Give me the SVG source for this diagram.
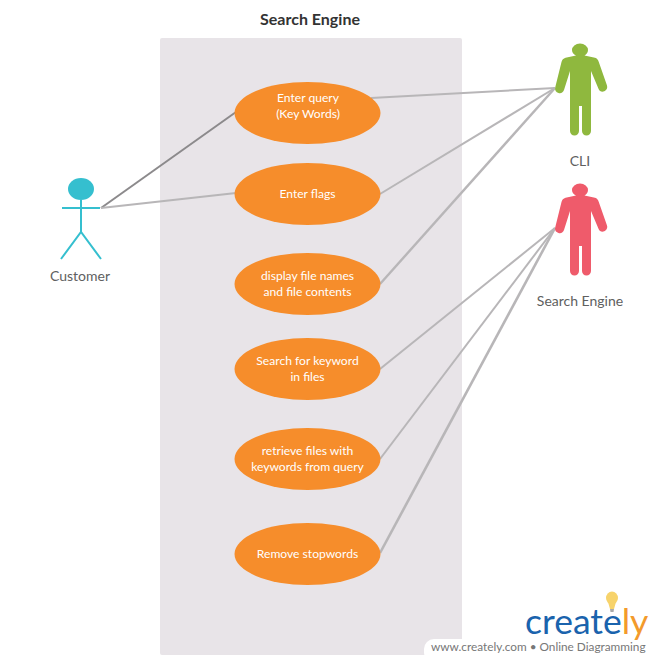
<svg xmlns="http://www.w3.org/2000/svg" width="660" height="663" viewBox="0 0 660 663">
<style>
text{font-family:Lato,"Open Sans",sans-serif}
.u ellipse{fill:#f68d2b}
.u text{fill:#fff;font-size:12.1px;text-anchor:middle}
.lab{fill:#606060;font-size:14px;text-anchor:middle}
.c line{stroke:#b8b6b8;stroke-width:2;fill:none}
.stick *{stroke:#35bfcf;stroke-width:2;fill:none}
</style>
<defs>
<path id="person" d="M572 50a8 6.500 0 0 1 16 0c0 2.500-1.500 4.500-3.500 5.500l10.500 2.300c2 .6 3 2 3.700 4l8.300 23.700c.8 2.500-.5 4.800-2.700 5.800-2.500 1.100-4.700 0-5.700-2.300L591 71v60c0 2.500-2 4.500-4.500 4.500S582 133.500 582 131V106h-3v25c0 2.500-2 4.500-4.500 4.500S570 133.500 570 131V71l-6 19c-.8 2.500-3 3.800-5.500 3-2.500-.8-4-3-3.300-5.500L561.500 62c.6-2 1.800-3.600 4-4.200l10.500-2.300c-2.500-1-4-3-4-5.500z"/>
</defs>
<rect width="660" height="663" fill="#fff"/>
<rect id="boundary" x="160" y="38" width="302" height="617" rx="2" fill="#e8e4e8"/>
<text id="title" x="310" y="25" font-size="16" font-weight="700" fill="#333" text-anchor="middle">Search Engine</text>
<g id="connectors" class="c">
<line x1="101" y1="208" x2="236" y2="112" style="stroke:#8c8a8c"/>
<line x1="101" y1="208" x2="236" y2="193"/>
<line x1="371" y1="98" x2="555" y2="88"/>
<line x1="380" y1="194" x2="555" y2="88"/>
<line x1="380" y1="284" x2="555" y2="88" style="stroke-width:2.400"/>
<line x1="380" y1="369" x2="555" y2="228"/>
<line x1="380" y1="459" x2="555" y2="228"/>
<line x1="380" y1="553" x2="555" y2="228" style="stroke-width:2.600"/>
</g>
<g id="customer">
<ellipse cx="81" cy="189" rx="13" ry="11" fill="#35bfcf"/>
<g class="stick"><path d="M81 200V232M62 208H100M61 259L81 232L101 259"/></g>
<text class="lab" x="80" y="281">Customer</text>
</g>
<g id="cli">
<use href="#person" fill="#8fb83e"/>
<text class="lab" x="580" y="166">CLI</text>
</g>
<g id="search-engine-actor">
<use href="#person" y="140" fill="#ef5b6b"/>
<text class="lab" x="580" y="306">Search Engine</text>
</g>
<g id="uc1" class="u"><ellipse cx="307.500" cy="113" rx="73" ry="31"/><text x="308" y="102">Enter query</text><text x="308" y="118">(Key Words)</text></g>
<g id="uc2" class="u"><ellipse cx="307.500" cy="194" rx="73" ry="31"/><text x="307.500" y="198">Enter flags</text></g>
<g id="uc3" class="u"><ellipse cx="307.500" cy="284" rx="73" ry="31"/><text x="307.500" y="280">display file names</text><text x="307.500" y="296">and file contents</text></g>
<g id="uc4" class="u"><ellipse cx="307.500" cy="369" rx="73" ry="31"/><text x="307.500" y="365">Search for keyword</text><text x="307.500" y="381">in files</text></g>
<g id="uc5" class="u"><ellipse cx="307.500" cy="459" rx="73" ry="31"/><text x="307.500" y="455">retrieve files with</text><text x="307.500" y="471">keywords from query</text></g>
<g id="uc6" class="u"><ellipse cx="307.500" cy="554" rx="73" ry="31"/><text x="307.500" y="558">Remove stopwords</text></g>
<g id="watermark">
<rect x="424" y="639" width="240" height="24" rx="10" fill="#fff"/>
<text x="431" y="651" font-size="11.800" fill="#777">www.creately.com • Online Diagramming</text>
<text x="525" y="634" font-size="35.500" fill="#1a63ad">create<tspan fill="#f39a2b">ly</tspan></text>
<ellipse cx="612" cy="598" rx="6" ry="6.500" fill="#f7d36b"/>
<path d="M608 602L610 609H614L616 602Z" fill="#f7d36b"/>
<path d="M610 609H614L613.500 612H610.500Z" fill="#aaa"/>
</g>
</svg>
